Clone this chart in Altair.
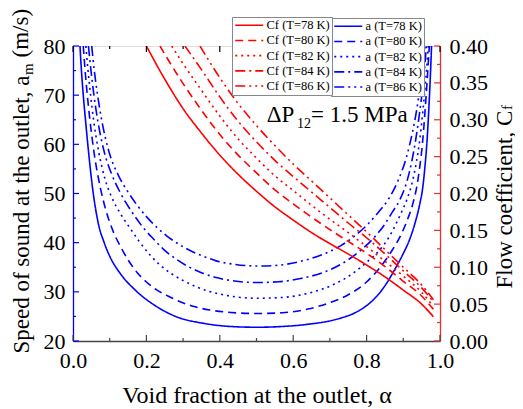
import altair as alt
import pandas as pd

FONT = "Liberation Serif"
BLUE = "#0000ff"
RED = "#ff0000"
RED_AX = "#e83030"

temps = ["78", "80", "82", "84", "86"]
blue_names = [f"a (T={t} K)" for t in temps]
red_names = [f"Cf (T={t} K)" for t in temps]
dashes = [[1, 0], [8, 5], [2, 4], [10, 4, 2, 4], [10, 4, 2, 4, 2, 4]]

# Speed of sound a_m (left axis)
alpha_a78 = [0.019, 0.023, 0.028, 0.034, 0.043, 0.054, 0.069, 0.085, 0.101, 0.128, 0.169, 0.228, 0.283, 0.355, 0.43, 0.50,
             0.57, 0.64, 0.727, 0.77, 0.80, 0.83, 0.855, 0.88, 0.90, 0.918, 0.932, 0.945, 0.953, 0.959, 0.964, 0.968, 0.972, 0.976, 0.977]
a78 = [80, 75, 70, 65, 58, 50.7, 43.9, 40.0, 37.1, 33.8, 30.4, 27.0, 24.9, 23.6, 22.95, 22.8,
       22.95, 23.4, 24.6, 25.8, 27.2, 29.3, 31.8, 35.0, 37.8, 40.8, 44.0, 47.9, 51.2, 55.5, 60, 65, 71, 78, 80]

alpha_a80 = [0.028, 0.033, 0.039, 0.046, 0.058, 0.075, 0.09, 0.11, 0.128, 0.15, 0.174, 0.20, 0.228, 0.26, 0.292, 0.33, 0.373, 0.43, 0.50,
             0.57, 0.64, 0.70, 0.75, 0.80, 0.84, 0.87, 0.895, 0.912, 0.927, 0.937, 0.945, 0.952, 0.959, 0.965, 0.971]
a80 = [80, 75, 70, 65, 58, 51, 46.5, 42.2, 39.4, 36.5, 34.0, 32.0, 30.4, 29.1, 28.0, 27.0, 26.3, 25.8, 25.6,
       25.75, 26.5, 27.8, 29.4, 32.0, 35.3, 38.5, 41.8, 44.8, 48.2, 51.5, 55.5, 60, 66.5, 73, 80]

alpha_a82 = [0.035, 0.041, 0.048, 0.056, 0.07, 0.087, 0.104, 0.13, 0.155, 0.18, 0.21, 0.235, 0.264, 0.30, 0.337, 0.37, 0.41, 0.45, 0.50,
             0.57, 0.64, 0.71, 0.76, 0.80, 0.84, 0.86, 0.88, 0.895, 0.909, 0.925, 0.936, 0.945, 0.953, 0.961, 0.968]
a82 = [80, 75, 70, 65, 58.5, 53, 49.5, 45.8, 43.0, 40.3, 37.5, 35.6, 33.9, 32.3, 31.0, 30.1, 29.4, 28.9, 28.7,
       28.85, 29.7, 31.5, 33.6, 36.0, 38.9, 41.0, 43.8, 46.2, 48.6, 52.5, 56.5, 61, 66.5, 73, 80]

alpha_a84 = [0.042, 0.049, 0.057, 0.067, 0.085, 0.105, 0.13, 0.16, 0.192, 0.22, 0.246, 0.28, 0.31, 0.35, 0.39, 0.44, 0.50,
             0.56, 0.62, 0.68, 0.73, 0.78, 0.82, 0.85, 0.87, 0.891, 0.91, 0.923, 0.935, 0.945, 0.955, 0.963]
a84 = [80, 75, 70, 65, 58.5, 54, 50, 46.3, 43.0, 40.7, 38.7, 36.7, 35.3, 33.9, 32.9, 32.2, 31.9,
       32.05, 32.7, 33.9, 35.6, 38.2, 41.0, 43.8, 46.2, 48.8, 52.5, 56.5, 61.5, 66.8, 73, 80]

alpha_a86 = [0.051, 0.058, 0.067, 0.078, 0.098, 0.125, 0.15, 0.175, 0.20, 0.23, 0.255, 0.29, 0.319, 0.35, 0.39, 0.44, 0.50,
             0.55, 0.62, 0.68, 0.73, 0.77, 0.80, 0.83, 0.86, 0.885, 0.909, 0.925, 0.936, 0.948, 0.959]
a86 = [80, 75, 70, 65, 58.5, 53.5, 50.3, 47.6, 45.3, 43.0, 41.4, 39.6, 38.4, 37.4, 36.3, 35.6, 35.25,
       35.35, 36.2, 37.6, 39.4, 41.5, 43.5, 46.0, 48.9, 52.5, 57.5, 62.5, 66.8, 73, 80]

# Flow coefficient Cf (right axis)
alpha_c78 = [0.20, 0.25, 0.30, 0.35, 0.40, 0.45, 0.50, 0.55, 0.60, 0.65, 0.70, 0.75, 0.80, 0.85, 0.90, 0.95, 0.982]
c78 = [0.40, 0.355, 0.315, 0.282, 0.252, 0.226, 0.203, 0.182, 0.164, 0.147, 0.132, 0.118, 0.103, 0.087, 0.069, 0.050, 0.033]
alpha_c80 = [0.237, 0.25, 0.30, 0.35, 0.40, 0.45, 0.50, 0.55, 0.60, 0.65, 0.70, 0.75, 0.80, 0.85, 0.90, 0.95, 0.982]
c80 = [0.40, 0.389, 0.349, 0.313, 0.280, 0.252, 0.228, 0.205, 0.186, 0.168, 0.151, 0.135, 0.119, 0.101, 0.081, 0.061, 0.043]
alpha_c82 = [0.269, 0.30, 0.35, 0.40, 0.45, 0.50, 0.55, 0.60, 0.65, 0.70, 0.75, 0.80, 0.85, 0.90, 0.95, 0.982]
c82 = [0.40, 0.376, 0.340, 0.305, 0.274, 0.248, 0.224, 0.204, 0.184, 0.165, 0.147, 0.128, 0.108, 0.088, 0.066, 0.047]
alpha_c84 = [0.305, 0.35, 0.40, 0.45, 0.50, 0.55, 0.60, 0.65, 0.70, 0.75, 0.80, 0.85, 0.90, 0.95, 0.982]
c84 = [0.40, 0.368, 0.331, 0.298, 0.270, 0.245, 0.223, 0.202, 0.181, 0.160, 0.140, 0.118, 0.095, 0.072, 0.053]
alpha_c86 = [0.346, 0.40, 0.45, 0.50, 0.55, 0.60, 0.65, 0.70, 0.75, 0.80, 0.85, 0.90, 0.95, 0.982]
c86 = [0.40, 0.357, 0.322, 0.292, 0.265, 0.240, 0.217, 0.194, 0.171, 0.148, 0.124, 0.100, 0.076, 0.056]

x_major = [0.0, 0.2, 0.4, 0.6, 0.8, 1.0]
x_minor = [0.1, 0.3, 0.5, 0.7, 0.9]
a_major = [20, 30, 40, 50, 60, 70, 80]
a_minor = [25, 35, 45, 55, 65, 75]
c_major = [0.0, 0.05, 0.10, 0.15, 0.20, 0.25, 0.30, 0.35, 0.40]
c_minor = [0.025, 0.075, 0.125, 0.175, 0.225, 0.275, 0.325, 0.375]

W, H = 367, 295

a_rows = []
for name, xs_, ys_ in zip(blue_names, [alpha_a78, alpha_a80, alpha_a82, alpha_a84, alpha_a86], [a78, a80, a82, a84, a86]):
    for x, y in zip(xs_, ys_):
        a_rows.append({"alpha": x, "a": y, "series": name})
a_df = pd.DataFrame(a_rows)

c_rows = []
for name, xs_, ys_ in zip(red_names, [alpha_c78, alpha_c80, alpha_c82, alpha_c84, alpha_c86], [c78, c80, c82, c84, c86]):
    for x, y in zip(xs_, ys_):
        c_rows.append({"alpha": x, "cf": y, "series": name})
c_df = pd.DataFrame(c_rows)

xs = alt.Scale(domain=[0, 1], nice=False, zero=False)
ya_s = alt.Scale(domain=[20, 80], nice=False, zero=False)
yc_s = alt.Scale(domain=[0, 0.4], nice=False, zero=False)

x_axis = alt.Axis(title="Void fraction at the outlet, α", values=x_major, format=".1f", ticks=False, tickSize=0,
                  grid=False, domainColor="#444444", domainWidth=1.3, labelFont=FONT, labelFontSize=22,
                  labelPadding=9.5, labelColor="black", labelFlush=False, titleFont=FONT, titleFontSize=24,
                  titleFontWeight="normal", titleColor="black", titleY=61, titleBaseline="alphabetic")
ya_axis = alt.Axis(title="Speed of sound at the outlet, a", values=a_major, format="d", ticks=False, tickSize=0,
                   grid=False, domainColor=BLUE, domainWidth=1.3, labelFont=FONT, labelFontSize=22, labelPadding=8,
                   labelColor="black", labelFlush=False, titleFont=FONT, titleFontSize=23, titleFontWeight="normal",
                   titleColor="black", titleAngle=270, titleAlign="left", titleBaseline="alphabetic",
                   titleX=-45, titleY=307)
yc_axis = alt.Axis(title="Flow coefficient, C", orient="right", values=c_major, format=".2f", ticks=False,
                   tickSize=0, grid=False, domainColor=RED_AX, domainWidth=1.3, labelFont=FONT, labelFontSize=22,
                   labelPadding=9, labelColor="black", labelFlush=False, titleFont=FONT, titleFontSize=23,
                   titleFontWeight="normal", titleColor="black", titleAngle=270, titleAlign="left",
                   titleBaseline="alphabetic", titleX=71, titleY=242)


def legend(lx, ly):
    return alt.Legend(title=None, orient="none", legendX=lx, legendY=ly, symbolType="M-1,0H4.6", symbolSize=100,
                      symbolStrokeWidth=1.6, labelFont=FONT, labelFontSize=12.5, labelColor="black",
                      strokeColor="#888888", fillColor="white", padding=2, rowPadding=2.2, labelOffset=20,
                      direction="vertical")


blue_lines = alt.Chart(a_df).mark_line(clip=True, strokeWidth=1.6, interpolate="monotone").encode(
    x=alt.X("alpha:Q", scale=xs, axis=x_axis),
    y=alt.Y("a:Q", scale=ya_s, axis=ya_axis),
    color=alt.Color("series:N", scale=alt.Scale(domain=blue_names, range=[BLUE] * 5), legend=legend(258, -28)),
    strokeDash=alt.StrokeDash("series:N", scale=alt.Scale(domain=blue_names, range=dashes), legend=legend(258, -28)),
)
left_major = alt.Chart(pd.DataFrame({"v": a_major})).mark_rule(color=BLUE, strokeWidth=1.2).encode(
    y=alt.Y("v:Q", scale=ya_s, axis=ya_axis), x=alt.value(0), x2=alt.value(6))
left_minor = alt.Chart(pd.DataFrame({"v": a_minor})).mark_rule(color=BLUE, strokeWidth=1.2).encode(
    y=alt.Y("v:Q", scale=ya_s, axis=ya_axis), x=alt.value(0), x2=alt.value(3))
blue_group = alt.layer(blue_lines, left_major, left_minor)

red_lines = alt.Chart(c_df).mark_line(clip=True, strokeWidth=1.6, interpolate="monotone").encode(
    x=alt.X("alpha:Q", scale=xs, axis=x_axis),
    y=alt.Y("cf:Q", scale=yc_s, axis=yc_axis),
    color=alt.Color("series:N", scale=alt.Scale(domain=red_names, range=[RED] * 5), legend=legend(159, -29)),
    strokeDash=alt.StrokeDash("series:N", scale=alt.Scale(domain=red_names, range=dashes), legend=legend(159, -29)),
)
right_major = alt.Chart(pd.DataFrame({"v": c_major})).mark_rule(color=RED_AX, strokeWidth=1.2).encode(
    y=alt.Y("v:Q", scale=yc_s, axis=yc_axis), x=alt.value(W), x2=alt.value(W - 6))
right_minor = alt.Chart(pd.DataFrame({"v": c_minor})).mark_rule(color=RED_AX, strokeWidth=1.2).encode(
    y=alt.Y("v:Q", scale=yc_s, axis=yc_axis), x=alt.value(W), x2=alt.value(W - 3))
red_group = alt.layer(red_lines, right_major, right_minor)

bx_major = alt.Chart(pd.DataFrame({"v": x_major})).mark_rule(color="#444444", strokeWidth=1.2).encode(
    x=alt.X("v:Q", scale=xs, axis=x_axis), y=alt.value(H), y2=alt.value(H - 6))
bx_minor = alt.Chart(pd.DataFrame({"v": x_minor})).mark_rule(color="#444444", strokeWidth=1.2).encode(
    x=alt.X("v:Q", scale=xs, axis=x_axis), y=alt.value(H), y2=alt.value(H - 3))
tx_major = alt.Chart(pd.DataFrame({"v": x_major})).mark_rule(color="black", strokeWidth=1.2).encode(
    x=alt.X("v:Q", scale=xs, axis=x_axis), y=alt.value(0), y2=alt.value(6))
tx_minor = alt.Chart(pd.DataFrame({"v": x_minor})).mark_rule(color="black", strokeWidth=1.2).encode(
    x=alt.X("v:Q", scale=xs, axis=x_axis), y=alt.value(0), y2=alt.value(3))


def label(txt, x, y, size, angle=0):
    kw = dict(font=FONT, fontSize=size, align="left", baseline="alphabetic", color="black")
    if angle:
        kw["angle"] = angle
    return alt.Chart(pd.DataFrame({"t": [txt]})).mark_text(**kw).encode(
        x=alt.value(x), y=alt.value(y), text="t:N")


texts = [
    label("ΔP", 193.7, 76, 23),
    label("12", 224, 82, 14),
    label("= 1.5 MPa", 238, 76, 23),
    label("m", -40, 29, 15, 270),
    label("(m/s)", -45, 11.5, 23, 270),
    label("f", 439, 64, 15, 270),
]

chart = alt.layer(blue_group, red_group, bx_major, bx_minor, tx_major, tx_minor, *texts).resolve_scale(
    y="independent", color="independent", strokeDash="independent"
).properties(
    width=W, height=H,
    padding={"left": 65, "top": 38, "right": 75, "bottom": 68},
    autosize=alt.AutoSizeParams(type="none"),
).configure_view(stroke="black", strokeWidth=1.2).configure(background="white")

chart.save("out.html", embed_options={"renderer": "svg", "actions": False})
